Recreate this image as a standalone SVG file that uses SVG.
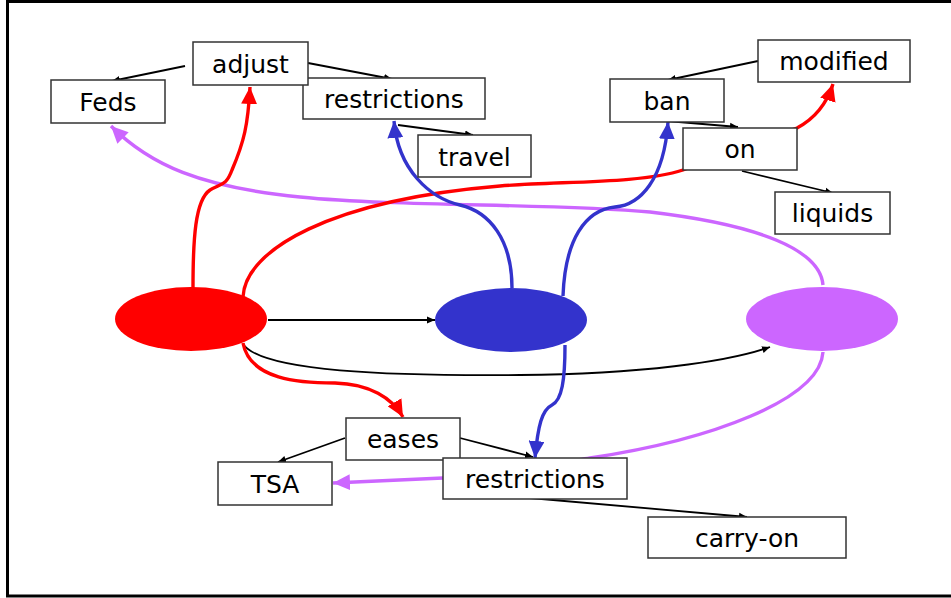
<svg xmlns="http://www.w3.org/2000/svg" width="951" height="598" viewBox="0 0 951 598">
<defs>
<style>
.box rect{fill:#fff;stroke:#333;stroke-width:1.5}
.box text{font-family:"DejaVu Sans",Verdana,sans-serif;font-size:25px;fill:#000;text-anchor:middle}
.k{fill:none;stroke:#000;stroke-width:1.8;marker-end:url(#ak)}
.r{fill:none;stroke:#ff0000;stroke-width:3.4;marker-end:url(#ar)}
.b{fill:none;stroke:#3333cc;stroke-width:3.4;marker-end:url(#ab)}
.p{fill:none;stroke:#cc66ff;stroke-width:3.4;marker-end:url(#ap)}
</style>
<marker id="ak" markerUnits="userSpaceOnUse" markerWidth="9" markerHeight="8" refX="8" refY="4" orient="auto"><path d="M0,0.5 L8,4 L0,7.5 z" fill="#000"/></marker>
<marker id="ar" markerUnits="userSpaceOnUse" markerWidth="18" markerHeight="16" refX="17" refY="8" orient="auto"><path d="M0,0 L17,8 L0,16 z" fill="#ff0000"/></marker>
<marker id="ab" markerUnits="userSpaceOnUse" markerWidth="18" markerHeight="16" refX="17" refY="8" orient="auto"><path d="M0,0 L17,8 L0,16 z" fill="#3333cc"/></marker>
<marker id="ap" markerUnits="userSpaceOnUse" markerWidth="18" markerHeight="16" refX="17" refY="8" orient="auto"><path d="M0,0 L17,8 L0,16 z" fill="#cc66ff"/></marker>
</defs>
<rect width="951" height="598" fill="#fff"/>
<rect x="7.5" y="1.5" width="1000" height="594.5" fill="none" stroke="#000" stroke-width="3"/>

<g id="connectors">
<path class="k" d="M185,66 L112,81"/>
<path class="k" d="M308,63 L392,79"/>
<path class="k" d="M398,125 L473,135"/>
<path class="k" d="M758,61 L668,80"/>
<path class="k" d="M667,121 L738,127"/>
<path class="k" d="M742,171 L833,193"/>
<path class="k" d="M345,438 L278,462"/>
<path class="k" d="M460,438 L533,457"/>
<path class="k" d="M530,498 L747,517"/>
<path class="k" d="M268,320 L435,320"/>
<path class="k" d="M243,344 C262,372 390,376 520,375 C640,374 728,362 770,347"/>
<path class="p" d="M823,285 C820,250 760,225 650,212 C550,203 400,207 300,197 C200,187 150,165 111,126"/>
<path class="p" d="M823,352 C820,400 710,440 590,458 C540,466 480,476 443,478 L333,483"/>
<path class="r" d="M193,288 C193,240 195,200 210,190 C222,183 226,186 232,170 C244,142 248,125 250,87"/>
<path class="r" d="M243,297 C245,250 330,200 500,186 C560,181 640,184 683,170 L797,128 C812,120 826,106 833,84"/>
<path class="r" d="M243,343 C250,380 300,383 335,383 C370,384 392,398 403,417"/>
<path class="b" d="M512,288 C512,240 490,212 460,205 C430,198 398,170 394,121"/>
<path class="b" d="M563,296 C565,240 585,210 615,207 C640,205 664,180 668,122"/>
<path class="b" d="M565,345 C565,380 562,400 552,405 C542,410 538,425 535,458"/>
</g>

<g id="e_red"><ellipse cx="191" cy="319" rx="76" ry="32" fill="#ff0000"/></g>
<g id="e_blue"><ellipse cx="511" cy="320" rx="76" ry="32" fill="#3333cc"/></g>
<g id="e_purple"><ellipse cx="822" cy="319" rx="76" ry="32" fill="#cc66ff"/></g>

<g id="n_restrictions1" class="box"><rect x="303" y="78" width="182" height="41"/><text x="394" y="108">restrictions</text></g>
<g id="n_adjust" class="box"><rect x="193" y="42" width="115" height="43"/><text x="250.5" y="73">adjust</text></g>
<g id="n_feds" class="box"><rect x="51" y="80" width="114" height="43"/><text x="108" y="110.5">Feds</text></g>
<g id="n_travel" class="box"><rect x="418" y="135" width="113" height="42"/><text x="474.5" y="165.5">travel</text></g>
<g id="n_modified" class="box"><rect x="758" y="40" width="152" height="42"/><text x="834" y="70">modified</text></g>
<g id="n_ban" class="box"><rect x="610" y="79" width="114" height="43"/><text x="667" y="109.5">ban</text></g>
<g id="n_on" class="box"><rect x="683" y="128" width="114" height="42"/><text x="740" y="158">on</text></g>
<g id="n_liquids" class="box"><rect x="775" y="192" width="115" height="42"/><text x="832.5" y="222">liquids</text></g>
<g id="n_eases" class="box"><rect x="346" y="418" width="114" height="42"/><text x="403" y="448">eases</text></g>
<g id="n_tsa" class="box"><rect x="218" y="462" width="114" height="43"/><text x="275" y="492.5">TSA</text></g>
<g id="n_restrictions2" class="box"><rect x="443" y="458" width="184" height="41"/><text x="535" y="488">restrictions</text></g>
<g id="n_carryon" class="box"><rect x="648" y="517" width="198" height="41"/><text x="747" y="547">carry-on</text></g>
</svg>
